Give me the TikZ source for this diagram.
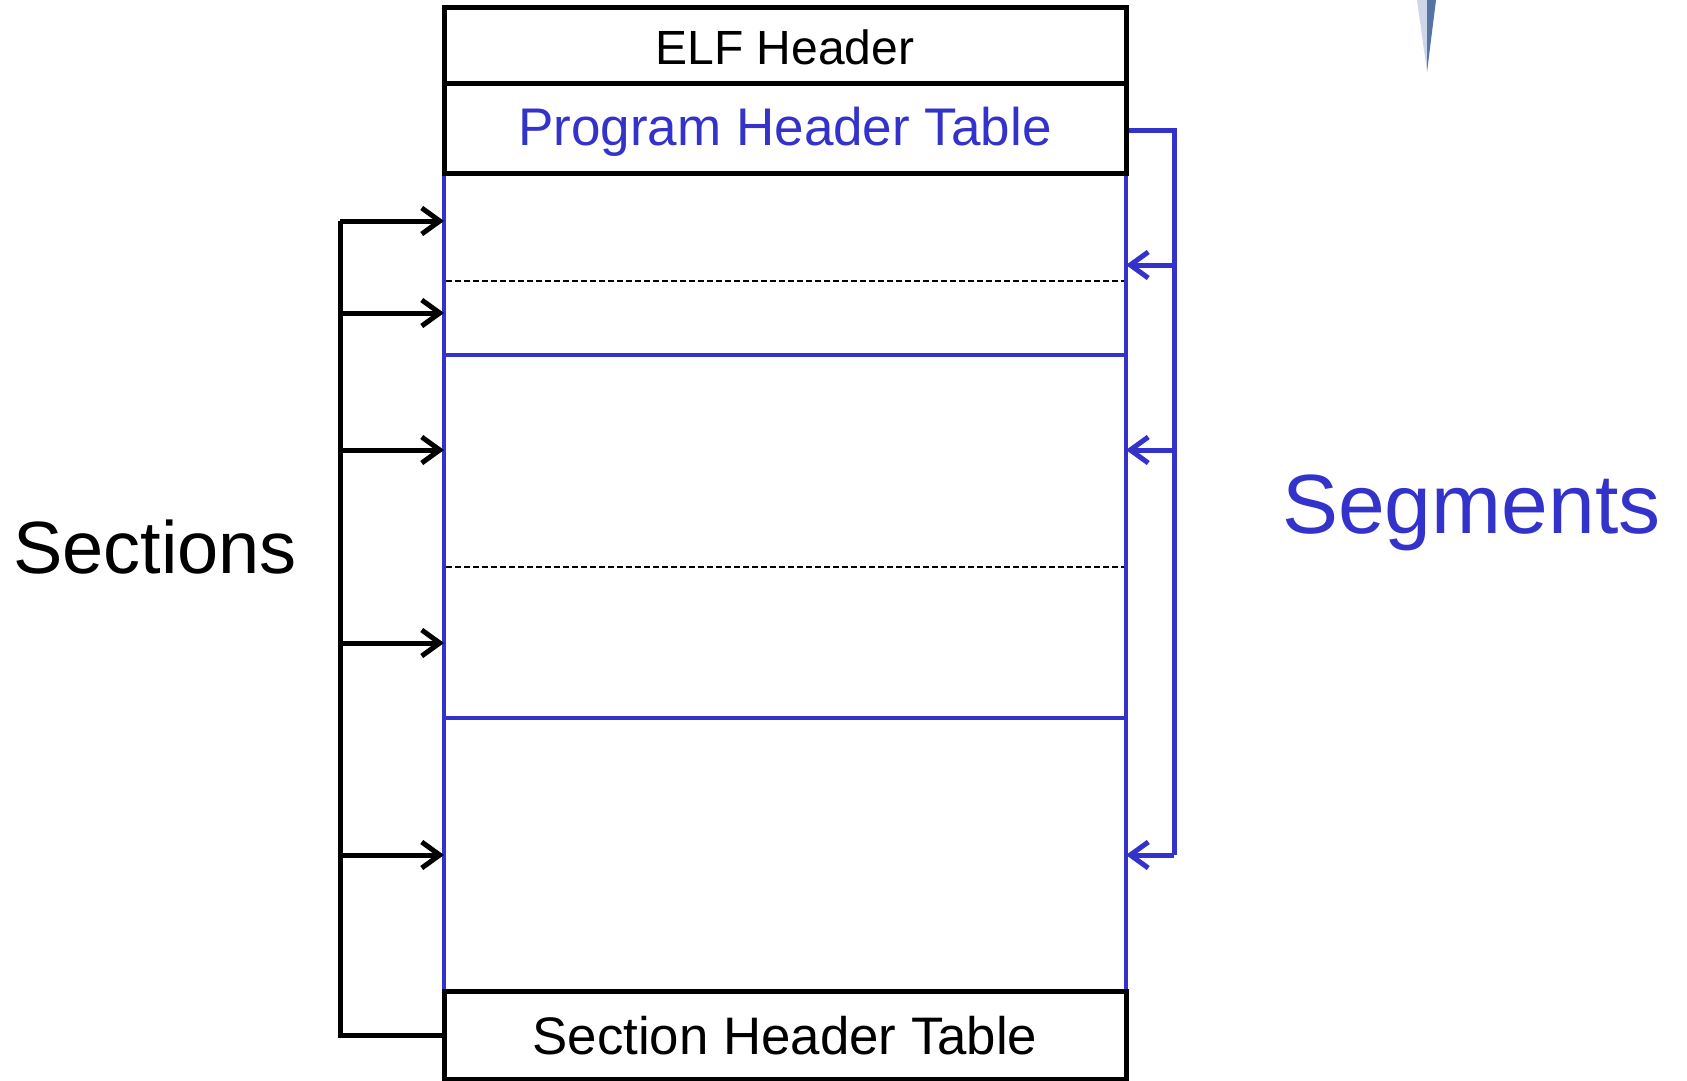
\documentclass[tikz,border=0pt]{standalone}
\usepackage{fontspec}
\setmainfont{Liberation Sans}
\usetikzlibrary{arrows.meta}
\definecolor{segblue}{RGB}{51,51,204}
\definecolor{spikelight}{RGB}{205,215,232}
\definecolor{spikedark}{RGB}{85,115,165}
\begin{document}
\begin{tikzpicture}[x=1pt,y=-1pt,
  hdrbox/.style={draw=black,line width=5pt,inner sep=0pt,minimum width=682pt},
  region/.style={inner sep=0pt,minimum width=682pt},
  blueline/.style={draw=segblue,line width=4pt},
  secarrow/.style={draw=black,line width=5pt,-{Straight Barb[length=18pt,width=26pt,line width=5pt]}},
  segarrow/.style={draw=segblue,line width=5pt,-{Straight Barb[length=18pt,width=26pt,line width=5pt]}},
  secline/.style={draw=black,line width=5pt,line join=miter},
  segline/.style={draw=segblue,line width=5pt,line join=miter},
  sep/.style={draw=black,line width=1.5pt,dash pattern=on 6pt off 3pt},
  lbl/.style={inner sep=0pt,anchor=base}
]
\useasboundingbox (0,0) rectangle (1687,1081);
\fill[white] (0,0) rectangle (1687,1081);

% spike decoration top right
\fill[spikelight] (1417,0) -- (1427,0) -- (1427,72) -- cycle;
\fill[spikedark] (1427,0) -- (1436,0) -- (1427,72) -- cycle;

% regions (invisible nodes)
\node[region,minimum height=182pt] (seg1) at (785,264) {};
\node[region,minimum height=363pt] (seg2) at (785,536.5) {};
\node[region,minimum height=273pt] (seg3) at (785,854.5) {};

% blue side lines and separators
\draw[blueline] (seg1.north west) -- (seg3.south west);
\draw[blueline] (seg1.north east) -- (seg3.south east);
\draw[blueline] (seg1.south west) -- (seg1.south east);
\draw[blueline] (seg2.south west) -- (seg2.south east);
\draw[sep] (446,281) -- (1124,281);
\draw[sep] (446,567) -- (1124,567);

% header boxes
\node[hdrbox,minimum height=76.5pt] (elf) at (785,45.75) {};
\node[hdrbox,minimum height=89pt] (pht) at (785,128.5) {};
\node[hdrbox,minimum height=88pt] (sht) at (785,1035) {};

\node[lbl,font=\fontsize{48}{52}\selectfont] at (785,65) {ELF Header};
\node[lbl,font=\fontsize{53}{57}\selectfont,text=segblue] at (785,145) {Program Header Table};
\node[lbl,font=\fontsize{52.8}{57}\selectfont] at (785,1054) {Section Header Table};

% Sections bracket
\coordinate (lb) at (340,1035);
\coordinate (lt) at (340,221);
\coordinate (s1) at (444,221);
\draw[secline] (sht.west) -- (lb) -- (lt);
\draw[secarrow] (lt) -- (s1);
\foreach \yy in {313,450,643,855}{
  \draw[secarrow] (340,\yy) -- (444,\yy);
}
\node[lbl,anchor=base west,font=\fontsize{74}{80}\selectfont] (sections) at (13,573) {Sections};

% Segments bracket
\coordinate (rt) at (1174,130);
\coordinate (rb) at (1174,855);
\draw[segline] (pht.east |- rt) -- (rt) -- (rb);
\draw[segarrow] (rb) -- (1126,855);
\foreach \yy in {265,450}{
  \draw[segarrow] (1174,\yy) -- (1126,\yy);
}
\node[lbl,anchor=base west,font=\fontsize{84}{90}\selectfont,text=segblue] (segments) at (1282,533) {Segments};
\end{tikzpicture}
\end{document}
